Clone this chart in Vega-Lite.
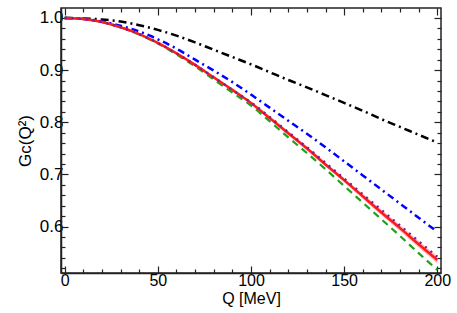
{
  "$schema": "https://vega.github.io/schema/vega-lite/v6.json",
  "autosize": "none",
  "width": 380,
  "height": 265,
  "padding": {"left": 61, "top": 8, "right": 16, "bottom": 40},
  "background": "white",
  "config": {
    "font": "Liberation Sans",
    "view": {"stroke": "#222", "strokeWidth": 1.5},
    "axis": {"labelFontSize": 17, "titleFontSize": 16, "labelColor": "black", "titleColor": "black", "titleFontWeight": "normal", "domainColor": "#222", "tickColor": "#222", "tickWidth": 1.2, "grid": false, "labelFont": "Liberation Sans", "titleFont": "Liberation Sans"}
  },
  "datasets": {
    "curves": [
      {"Q": 0, "G": 1.000, "s": "bk"}, {"Q": 10, "G": 0.999, "s": "bk"}, {"Q": 20, "G": 0.997, "s": "bk"}, {"Q": 30, "G": 0.993, "s": "bk"}, {"Q": 40, "G": 0.986, "s": "bk"}, {"Q": 50, "G": 0.977, "s": "bk"}, {"Q": 60, "G": 0.966, "s": "bk"}, {"Q": 70, "G": 0.953, "s": "bk"}, {"Q": 80, "G": 0.939, "s": "bk"}, {"Q": 90, "G": 0.925, "s": "bk"}, {"Q": 100, "G": 0.911, "s": "bk"}, {"Q": 110, "G": 0.896, "s": "bk"}, {"Q": 120, "G": 0.881, "s": "bk"}, {"Q": 130, "G": 0.867, "s": "bk"}, {"Q": 140, "G": 0.852, "s": "bk"}, {"Q": 150, "G": 0.837, "s": "bk"}, {"Q": 160, "G": 0.822, "s": "bk"}, {"Q": 170, "G": 0.806, "s": "bk"}, {"Q": 180, "G": 0.791, "s": "bk"}, {"Q": 190, "G": 0.776, "s": "bk"}, {"Q": 200, "G": 0.761, "s": "bk"},
      {"Q": 0, "G": 1.000, "s": "bl"}, {"Q": 10, "G": 0.998, "s": "bl"}, {"Q": 20, "G": 0.993, "s": "bl"}, {"Q": 30, "G": 0.985, "s": "bl"}, {"Q": 40, "G": 0.974, "s": "bl"}, {"Q": 50, "G": 0.959, "s": "bl"}, {"Q": 60, "G": 0.941, "s": "bl"}, {"Q": 70, "G": 0.920, "s": "bl"}, {"Q": 80, "G": 0.899, "s": "bl"}, {"Q": 90, "G": 0.877, "s": "bl"}, {"Q": 100, "G": 0.853, "s": "bl"}, {"Q": 110, "G": 0.828, "s": "bl"}, {"Q": 120, "G": 0.803, "s": "bl"}, {"Q": 130, "G": 0.778, "s": "bl"}, {"Q": 140, "G": 0.752, "s": "bl"}, {"Q": 150, "G": 0.725, "s": "bl"}, {"Q": 160, "G": 0.698, "s": "bl"}, {"Q": 170, "G": 0.671, "s": "bl"}, {"Q": 180, "G": 0.644, "s": "bl"}, {"Q": 190, "G": 0.617, "s": "bl"}, {"Q": 200, "G": 0.590, "s": "bl"},
      {"Q": 0, "G": 1.000, "s": "gr"}, {"Q": 10, "G": 0.998, "s": "gr"}, {"Q": 20, "G": 0.992, "s": "gr"}, {"Q": 30, "G": 0.982, "s": "gr"}, {"Q": 40, "G": 0.968, "s": "gr"}, {"Q": 50, "G": 0.951, "s": "gr"}, {"Q": 60, "G": 0.930, "s": "gr"}, {"Q": 70, "G": 0.907, "s": "gr"}, {"Q": 80, "G": 0.882, "s": "gr"}, {"Q": 90, "G": 0.857, "s": "gr"}, {"Q": 100, "G": 0.832, "s": "gr"}, {"Q": 110, "G": 0.802, "s": "gr"}, {"Q": 120, "G": 0.771, "s": "gr"}, {"Q": 130, "G": 0.741, "s": "gr"}, {"Q": 140, "G": 0.710, "s": "gr"}, {"Q": 150, "G": 0.678, "s": "gr"}, {"Q": 160, "G": 0.646, "s": "gr"}, {"Q": 170, "G": 0.614, "s": "gr"}, {"Q": 180, "G": 0.582, "s": "gr"}, {"Q": 190, "G": 0.549, "s": "gr"}, {"Q": 200, "G": 0.517, "s": "gr"},
      {"Q": 0, "G": 1.000, "s": "rd"}, {"Q": 10, "G": 0.998, "s": "rd"}, {"Q": 20, "G": 0.992, "s": "rd"}, {"Q": 30, "G": 0.982, "s": "rd"}, {"Q": 40, "G": 0.969, "s": "rd"}, {"Q": 50, "G": 0.952, "s": "rd"}, {"Q": 60, "G": 0.932, "s": "rd"}, {"Q": 70, "G": 0.910, "s": "rd"}, {"Q": 80, "G": 0.886, "s": "rd"}, {"Q": 90, "G": 0.862, "s": "rd"}, {"Q": 100, "G": 0.837, "s": "rd"}, {"Q": 110, "G": 0.808, "s": "rd"}, {"Q": 120, "G": 0.779, "s": "rd"}, {"Q": 130, "G": 0.750, "s": "rd"}, {"Q": 140, "G": 0.719, "s": "rd"}, {"Q": 150, "G": 0.689, "s": "rd"}, {"Q": 160, "G": 0.658, "s": "rd"}, {"Q": 170, "G": 0.627, "s": "rd"}, {"Q": 180, "G": 0.597, "s": "rd"}, {"Q": 190, "G": 0.566, "s": "rd"}, {"Q": 200, "G": 0.536, "s": "rd"},
      {"Q": 0, "G": 1.000, "s": "pu"}, {"Q": 10, "G": 0.998, "s": "pu"}, {"Q": 20, "G": 0.992, "s": "pu"}, {"Q": 30, "G": 0.982, "s": "pu"}, {"Q": 40, "G": 0.969, "s": "pu"}, {"Q": 50, "G": 0.952, "s": "pu"}, {"Q": 60, "G": 0.932, "s": "pu"}, {"Q": 70, "G": 0.910, "s": "pu"}, {"Q": 80, "G": 0.886, "s": "pu"}, {"Q": 90, "G": 0.862, "s": "pu"}, {"Q": 100, "G": 0.838, "s": "pu"}, {"Q": 110, "G": 0.810, "s": "pu"}, {"Q": 120, "G": 0.781, "s": "pu"}, {"Q": 130, "G": 0.752, "s": "pu"}, {"Q": 140, "G": 0.722, "s": "pu"}, {"Q": 150, "G": 0.692, "s": "pu"}, {"Q": 160, "G": 0.662, "s": "pu"}, {"Q": 170, "G": 0.632, "s": "pu"}, {"Q": 180, "G": 0.602, "s": "pu"}, {"Q": 190, "G": 0.572, "s": "pu"}, {"Q": 200, "G": 0.542, "s": "pu"}
    ],
    "band": [
      {"Q": 0, "lo": 1.000, "hi": 1.000}, {"Q": 20, "lo": 0.992, "hi": 0.992}, {"Q": 40, "lo": 0.968, "hi": 0.970}, {"Q": 60, "lo": 0.931, "hi": 0.933}, {"Q": 80, "lo": 0.884, "hi": 0.888}, {"Q": 100, "lo": 0.834, "hi": 0.840}, {"Q": 120, "lo": 0.775, "hi": 0.783}, {"Q": 140, "lo": 0.715, "hi": 0.723}, {"Q": 160, "lo": 0.653, "hi": 0.663}, {"Q": 180, "lo": 0.591, "hi": 0.603}, {"Q": 200, "lo": 0.529, "hi": 0.543}
    ]
  },
  "resolve": {"axis": {"x": "independent", "y": "independent"}},
  "layer": [
    {
      "data": {"name": "curves"},
      "transform": [{"filter": "datum.s === 'bk'"}],
      "mark": {"type": "line", "color": "black", "strokeWidth": 2.5, "strokeDash": [8, 4, 2, 4], "interpolate": "monotone", "clip": true},
      "encoding": {
        "x": {"field": "Q", "type": "quantitative", "scale": {"domain": [-2, 202], "nice": false, "zero": false},
          "axis": {"orient": "bottom", "values": [0, 50, 100, 150, 200], "tickSize": -7, "labelPadding": 6, "labelFontSize": 16, "labelFlush": true, "title": "Q [MeV]", "titlePadding": 2, "domainWidth": 1.5}},
        "y": {"field": "G", "type": "quantitative", "scale": {"domain": [0.511, 1.019], "nice": false, "zero": false},
          "axis": {"orient": "left", "values": [0.6, 0.7, 0.8, 0.9, 1.0], "format": ".1f", "tickSize": -7, "labelPadding": 5, "title": "Gᴄ(Q²)", "titleFontSize": 17, "titlePadding": 5, "domainWidth": 1.5}}
      }
    },
    {
      "data": {"name": "curves"},
      "transform": [{"filter": "datum.s === 'bl'"}],
      "mark": {"type": "line", "color": "#0000ff", "strokeWidth": 2.5, "strokeDash": [7, 4, 2, 4], "interpolate": "monotone", "clip": true},
      "encoding": {
        "x": {"field": "Q", "type": "quantitative", "axis": {"orient": "top", "values": [0, 50, 100, 150, 200], "tickSize": -7, "labels": false, "domain": false, "title": null}},
        "y": {"field": "G", "type": "quantitative", "axis": {"orient": "right", "values": [0.6, 0.7, 0.8, 0.9, 1.0], "tickSize": -7, "labels": false, "domain": false, "title": null}}
      }
    },
    {
      "data": {"name": "curves"},
      "transform": [{"filter": "datum.s === 'gr'"}],
      "mark": {"type": "line", "color": "#1aa31a", "strokeWidth": 2.2, "strokeDash": [7, 5], "interpolate": "monotone", "clip": true},
      "encoding": {
        "x": {"field": "Q", "type": "quantitative", "axis": {"orient": "bottom", "values": [10, 20, 30, 40, 60, 70, 80, 90, 110, 120, 130, 140, 160, 170, 180, 190], "tickSize": -4, "labels": false, "domain": false, "title": null}},
        "y": {"field": "G", "type": "quantitative", "axis": {"orient": "left", "values": [0.52, 0.54, 0.56, 0.58, 0.62, 0.64, 0.66, 0.68, 0.72, 0.74, 0.76, 0.78, 0.82, 0.84, 0.86, 0.88, 0.92, 0.94, 0.96, 0.98], "tickSize": -4, "labels": false, "domain": false, "title": null}}
      }
    },
    {
      "data": {"name": "band"},
      "mark": {"type": "area", "color": "#ff8080", "opacity": 0.5, "interpolate": "monotone", "clip": true},
      "encoding": {
        "x": {"field": "Q", "type": "quantitative", "axis": {"orient": "top", "values": [10, 20, 30, 40, 60, 70, 80, 90, 110, 120, 130, 140, 160, 170, 180, 190], "tickSize": -4, "labels": false, "domain": false, "title": null}},
        "y": {"field": "lo", "type": "quantitative", "axis": {"orient": "right", "values": [0.52, 0.54, 0.56, 0.58, 0.62, 0.64, 0.66, 0.68, 0.72, 0.74, 0.76, 0.78, 0.82, 0.84, 0.86, 0.88, 0.92, 0.94, 0.96, 0.98], "tickSize": -4, "labels": false, "domain": false, "title": null}},
        "y2": {"field": "hi"}
      }
    },
    {
      "data": {"name": "curves"},
      "transform": [{"filter": "datum.s === 'rd'"}],
      "mark": {"type": "line", "color": "#ff1a1a", "strokeWidth": 2.5, "interpolate": "monotone", "clip": true},
      "encoding": {
        "x": {"field": "Q", "type": "quantitative", "axis": null},
        "y": {"field": "G", "type": "quantitative", "axis": null}
      }
    },
    {
      "data": {"name": "curves"},
      "transform": [{"filter": "datum.s === 'pu'"}],
      "mark": {"type": "line", "color": "#7a1f8f", "strokeWidth": 2.5, "strokeDash": [2, 5], "interpolate": "monotone", "clip": true},
      "encoding": {
        "x": {"field": "Q", "type": "quantitative", "axis": null},
        "y": {"field": "G", "type": "quantitative", "axis": null}
      }
    }
  ]
}
